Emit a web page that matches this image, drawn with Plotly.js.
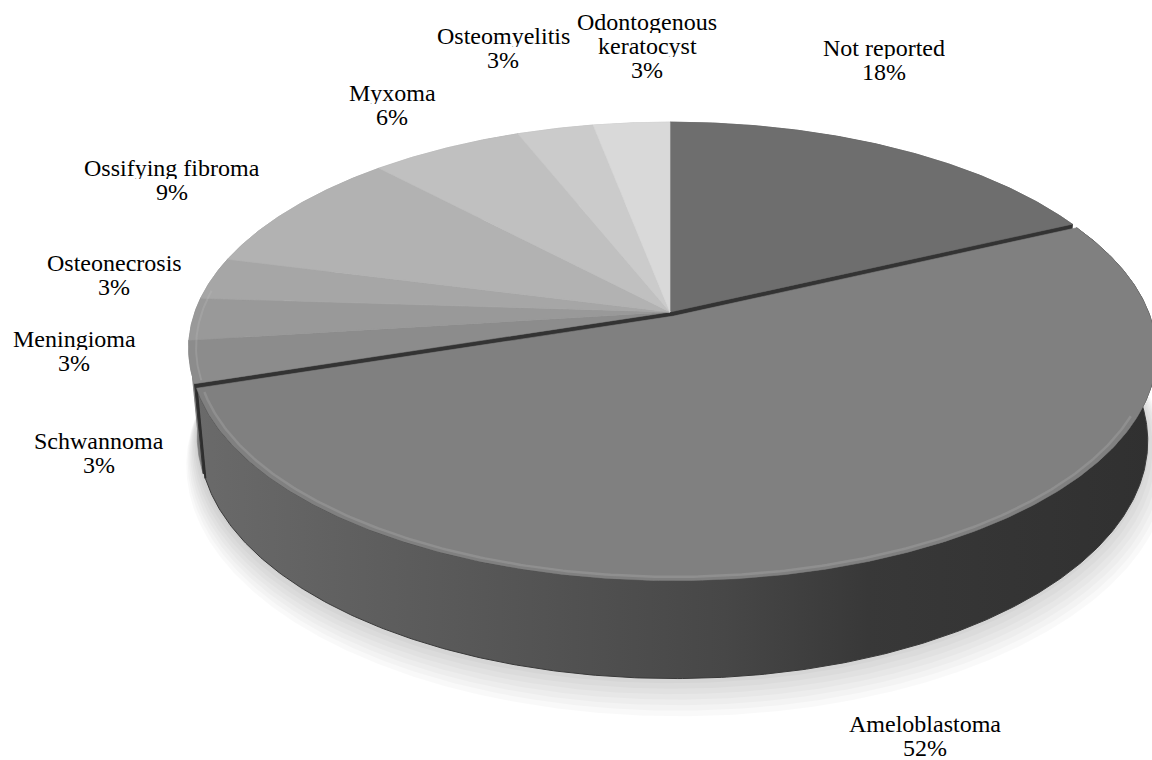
<!DOCTYPE html>
<html>
<head>
<meta charset="utf-8">
<script src="https://cdn.plot.ly/plotly-3.0.1.min.js"></script>
<style>
  html, body { margin: 0; padding: 0; background: #ffffff; }
  #chart { width: 1152px; height: 760px; }
</style>
</head>
<body>
<div id="chart"></div>
<script>
// Diagnoses and their share of cases (percent), clockwise from 12 o'clock
const categories = ['Not reported', 'Ameloblastoma', 'Schwannoma', 'Meningioma', 'Osteonecrosis',
                    'Ossifying fibroma', 'Myxoma', 'Osteomyelitis', 'Odontogenous keratocyst'];
const percents = [18, 52, 3, 3, 3, 9, 6, 3, 3];
// Label text lines for each category
const labelLines = [['Not reported'], ['Ameloblastoma'], ['Schwannoma'], ['Meningioma'], ['Osteonecrosis'],
                    ['Ossifying fibroma'], ['Myxoma'], ['Osteomyelitis'], ['Odontogenous', 'keratocyst']];

// Styling
const topColors  = ['#6e6e6e', '#808080', '#8c8c8c', '#999999', '#a6a6a6', '#b2b2b2', '#c0c0c0', '#cbcbcb', '#d9d9d9'];
const wallColors = ['#4a4a4a', '#555555', '#7a7a7a', '#868686', '#929292', '#9e9e9e', '#aaaaaa', '#b4b4b4', '#c0c0c0'];
const explodedSlice = 1;
const explodeDist = 0.02;
// Label anchor (centre of first line) in page pixels, and line spacing
const labelPos = [[884, 48], [925, 724], [99, 441], [74, 339], [114, 263], [172, 168], [392, 93], [503, 36], [647, 22]];
const lineStep = 24;

// 3-D view of the disc (unit radius, thickness T) seen from above with perspective
const CX = 670, CY = 312, FOC = 2613, DIST = 5.5;
const ELEV = Math.asin(0.464);
const SE = Math.sin(ELEV), CE = Math.cos(ELEV);
const T = 0.21;

function project(X, Y, Z) {
  const depth = DIST - (Y * SE + Z * CE);
  return [CX + FOC * X / depth, CY - FOC * (Y * CE - Z * SE) / depth];
}

// angle (radians, clockwise from the back of the disc) -> rim point
function rim(theta, Y, off, r) {
  r = r || 1;
  return project(off[0] + r * Math.sin(theta), Y, off[1] - r * Math.cos(theta));
}

function arc(t0, t1, Y, off, r) {
  const n = Math.max(2, Math.ceil(Math.abs(t1 - t0) / (Math.PI / 360)));
  const pts = [];
  for (let k = 0; k <= n; k++) pts.push(rim(t0 + (t1 - t0) * k / n, Y, off, r));
  return pts;
}

function poly(pts, extra) {
  const x = pts.map(p => p[0]).concat([pts[0][0]]);
  const y = pts.map(p => p[1]).concat([pts[0][1]]);
  return Object.assign({ type: 'scatter', mode: 'lines', x: x, y: y, fill: 'toself',
                         hoverinfo: 'skip', showlegend: false }, extra);
}

function line(pts, extra) {
  return Object.assign({ type: 'scatter', mode: 'lines', x: pts.map(p => p[0]), y: pts.map(p => p[1]),
                         hoverinfo: 'skip', showlegend: false }, extra);
}

// slice angular ranges
const total = percents.reduce((a, b) => a + b, 0);
const ranges = [];
let acc = 0;
percents.forEach(v => {
  ranges.push([2 * Math.PI * acc / total, 2 * Math.PI * (acc + v) / total]);
  acc += v;
});
const exMid = (ranges[explodedSlice][0] + ranges[explodedSlice][1]) / 2;
const exOff = [explodeDist * Math.sin(exMid), -explodeDist * Math.cos(exMid)];
const noOff = [0, 0];

const traces = [];

// soft shadow under the disc
for (let k = 8; k >= 1; k--) {
  traces.push(poly(arc(0, 2 * Math.PI, -T - 0.004 * k, [0.002 * k, 0.007 * k], 1 + 0.004 * k),
    { fillcolor: 'rgba(0,0,0,0.024)', line: { width: 0 } }));
}

// outer walls of the slices that stay in place
ranges.forEach((r, i) => {
  if (i === explodedSlice) return;
  const top = arc(r[0], r[1], 0, noOff);
  const bot = arc(r[1], r[0], -T, noOff);
  traces.push(poly(top.concat(bot), { fillcolor: wallColors[i], line: { width: 0.6, color: wallColors[i] } }));
});

// cut faces exposed beside the pulled-out slice
[ranges[explodedSlice][0], ranges[explodedSlice][1]].forEach(t => {
  const pts = [project(0, 0, 0), rim(t, 0, noOff), rim(t, -T, noOff), project(0, -T, 0)];
  traces.push(poly(pts, { fillcolor: '#333333', line: { width: 1, color: '#333333' } }));
});

// top faces of the slices that stay in place
ranges.forEach((r, i) => {
  if (i === explodedSlice) return;
  const pts = [project(0, 0, 0)].concat(arc(r[0], r[1], 0, noOff));
  traces.push(poly(pts, { fillcolor: topColors[i], line: { width: 0.6, color: topColors[i] } }));
});

// faint rim highlight on the left of the fixed group
traces.push(line(arc(ranges[explodedSlice][1] + 0.01, 3 * Math.PI / 2 + 0.1, 0, noOff, 0.985),
  { line: { width: 2, color: 'rgba(190,190,190,0.25)' } }));

// pulled-out slice: wall with horizontal shading, then its top face
{
  const r = ranges[explodedSlice];
  const top = arc(r[0], r[1], 0, exOff);
  const bot = arc(r[1], r[0], -T, exOff);
  const leftEdge = [rim(r[1], 0, exOff), rim(r[1], -T, exOff)];
  traces.push(poly(top.concat(bot), {
    fillcolor: wallColors[explodedSlice],
    fillgradient: { type: 'horizontal',
      colorscale: [[0, '#6a6a6a'], [0.3, '#575757'], [0.55, '#474747'], [0.7, '#383838'], [1, '#303030']] },
    line: { width: 1, color: '#3a3a3a' }
  }));
  traces.push(line(leftEdge, { line: { width: 2, color: '#2e2e2e' } }));
  const face = [project(exOff[0], 0, exOff[1])].concat(top);
  traces.push(poly(face, { fillcolor: topColors[explodedSlice], line: { width: 0.6, color: topColors[explodedSlice] } }));
  // light catch-light along the front edge of the top face
  traces.push(line(arc(Math.PI * 0.64, r[1] - 0.02, 0, exOff, 0.988),
    { line: { width: 2.5, color: 'rgba(165,165,165,0.4)' } }));
}

// labels: category name lines followed by the percentage
const annotations = [];
categories.forEach((c, i) => {
  const lines = labelLines[i].concat([percents[i] + '%']);
  lines.forEach((txt, j) => {
    annotations.push({
      x: labelPos[i][0], y: labelPos[i][1] + j * lineStep, xref: 'x', yref: 'y',
      text: txt, showarrow: false, xanchor: 'center', yanchor: 'middle', height: 22,
      font: { family: 'Liberation Serif, Times New Roman, serif', size: 24, color: '#000000' }
    });
  });
});

const layout = {
  width: 1152, height: 760,
  margin: { l: 0, r: 0, t: 0, b: 0 },
  paper_bgcolor: '#ffffff', plot_bgcolor: '#ffffff',
  xaxis: { range: [0, 1152], visible: false, fixedrange: true },
  yaxis: { range: [760, 0], visible: false, fixedrange: true },
  showlegend: false,
  annotations: annotations
};

Plotly.newPlot('chart', traces, layout, { displayModeBar: false, staticPlot: true });
</script>
</body>
</html>
